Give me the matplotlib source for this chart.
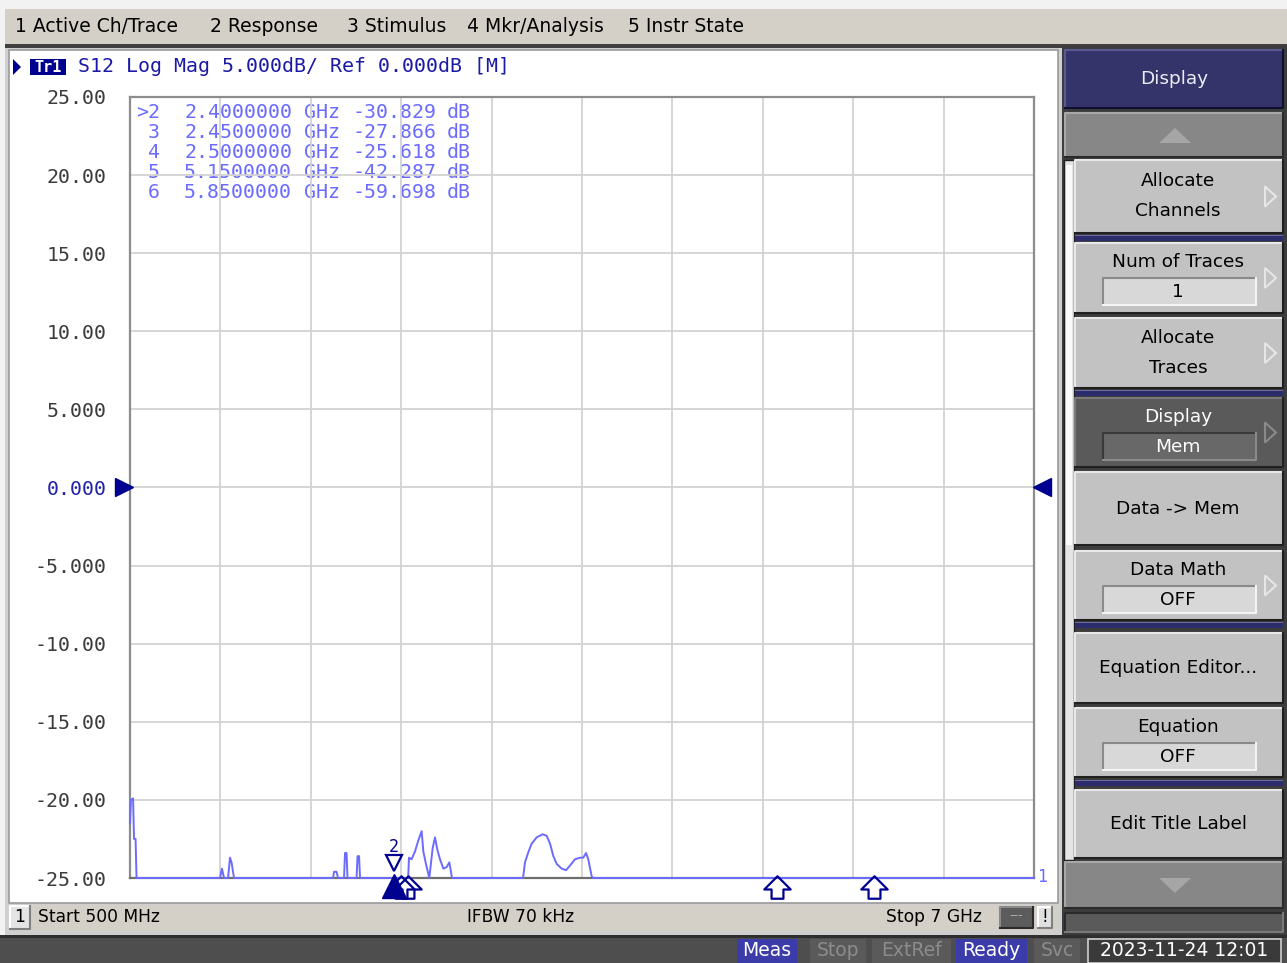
import matplotlib.pyplot as plt
import numpy as np
from matplotlib.patches import Rectangle, Polygon
from matplotlib.path import Path
from matplotlib.transforms import offset_copy

# ---- sweep / scale settings ----
start_ghz = 0.5
stop_ghz = 7.0
ref_db = 0.0
scale_db = 5.0
n_div = 10

# ---- S12 trace (GHz, dB) ----
freq_ghz = [0.500, 0.507, 0.522, 0.529, 0.540, 0.547, 0.80, 1.00, 1.147, 1.161,
            1.176, 1.205, 1.219, 1.230, 1.248, 1.50, 1.960, 1.967, 1.985, 1.996,
            2.039, 2.046, 2.057, 2.064, 2.129, 2.136, 2.147, 2.154, 2.30, 2.40,
            2.45, 2.50, 2.506, 2.525, 2.549, 2.573, 2.597, 2.609, 2.628, 2.652,
            2.676, 2.693, 2.710, 2.729, 2.753, 2.777, 2.796, 2.806, 2.815, 3.20,
            3.326, 3.340, 3.364, 3.388, 3.424, 3.467, 3.496, 3.520, 3.544, 3.568,
            3.604, 3.635, 3.664, 3.700, 3.736, 3.759, 3.779, 3.795, 3.820, 3.831,
            4.20, 5.15, 5.85, 6.50, 7.00]
s12_db = [-21.5, -20.0, -19.9, -22.5, -22.5, -31.0, -33.0, -32.0, -26.0, -24.4,
          -26.0, -25.5, -23.7, -24.0, -26.5, -31.0, -27.0, -24.6, -24.6, -27.0,
          -27.0, -23.4, -23.4, -27.0, -27.0, -23.6, -23.6, -27.0, -29.0, -30.829,
          -27.866, -25.618, -23.7, -23.8, -23.3, -22.6, -22.0, -23.3, -24.1, -25.8,
          -23.1, -22.4, -23.2, -23.8, -24.4, -24.3, -24.0, -24.5, -26.5, -30.0,
          -25.3, -24.0, -23.35, -22.8, -22.4, -22.2, -22.3, -22.8, -23.6, -24.1,
          -24.4, -24.5, -24.2, -23.8, -23.7, -23.7, -23.4, -23.8, -24.9, -25.6,
          -33.0, -42.287, -59.698, -45.0, -40.0]

# ---- markers ----
marker_ids = [2, 3, 4, 5, 6]
marker_freq = [2.40, 2.45, 2.50, 5.15, 5.85]
marker_db = [-30.829, -27.866, -25.618, -42.287, -59.698]
active_marker = 2

ytick_labels = ['-25.00', '-20.00', '-15.00', '-10.00', '-5.000', '0.000',
                '5.000', '10.00', '15.00', '20.00', '25.00']

menu_items = ['1 Active Ch/Trace', '2 Response', '3 Stimulus',
              '4 Mkr/Analysis', '5 Instr State']
menu_x = [15, 210, 347, 467, 628]

# label, field value, top, height, dark?, has submenu arrow
softkeys = [
    ('Allocate\nChannels', None, 160, 73, False, True),
    ('Num of Traces', '1', 243, 70, False, True),
    ('Allocate\nTraces', None, 318, 70, False, True),
    ('Display', 'Mem', 398, 69, True, True),
    ('Data -> Mem', None, 472, 73, False, False),
    ('Data Math', 'OFF', 551, 69, False, True),
    ('Equation Editor...', None, 633, 70, False, False),
    ('Equation', 'OFF', 708, 69, False, False),
    ('Edit Title Label', None, 790, 68, False, False),
]
separators = [235, 390, 622, 780]

status_items = ['Meas', 'Stop', 'ExtRef', 'Ready', 'Svc']
status_x = [(737, 797), (810, 866), (872, 951), (956, 1027), (1034, 1080)]
status_on = [True, False, False, True, False]
timestamp = '2023-11-24 12:01'

W, H = 1287, 963
UI_FONT = 'DejaVu Sans'
MENU_SIZE = 13.5
KEY_SIZE = 13.3
BAR_SIZE = 12.3
MONO = 'DejaVu Sans Mono'
MONO_SIZE = 14.3
TRACE_BLUE = '#6b6bff'
NAVY = '#000090'

fig = plt.figure(figsize=(W / 100, H / 100), dpi=100)
fig.patch.set_facecolor('#f2f2f2')

ui = fig.add_axes([0, 0, 1, 1], zorder=0)
ui.set_xlim(0, W)
ui.set_ylim(H, 0)
ui.axis('off')


def box(x0, y0, x1, y1, face, edge='none', lw=0, z=1):
    ui.add_patch(Rectangle((x0, y0), x1 - x0, y1 - y0, facecolor=face,
                           edgecolor=edge, linewidth=lw, zorder=z))


def bevel(x0, y0, x1, y1, face, light='#e6e6e6', dark='#404040', z=1):
    box(x0, y0, x1, y1, face, z=z)
    ui.plot([x0, x0, x1], [y1, y0, y0], color=light, lw=1.5, zorder=z + 0.1)
    ui.plot([x0, x1, x1], [y1, y1, y0], color=dark, lw=1.5, zorder=z + 0.1)


# menu bar
box(5, 9, W, 45, '#d4d0c8')
box(5, 44, W, 48, '#404040')
for label, x in zip(menu_items, menu_x):
    ui.text(x, 27, label, fontsize=MENU_SIZE, family=UI_FONT, va='center', ha='left')

# chart window
box(5, 48, 1062, 935, '#cfcfcf')
box(9, 50, 1058, 903, 'white', edge='#9a9a9a', lw=1.2)

# header line
ui.add_patch(Polygon([[13, 59], [21, 67], [13, 75]], closed=True,
                     facecolor=NAVY, zorder=3))
box(30, 59, 66, 75, NAVY, z=3)
ui.text(48, 67.5, 'Tr1', fontsize=11, family=MONO, color='white',
        fontweight='bold', ha='center', va='center', zorder=4)
ui.text(78, 67, 'S12 Log Mag %.3fdB/ Ref %.3fdB [M]' % (scale_db, ref_db),
        fontsize=MONO_SIZE, family=MONO, color='#1a1aa6', ha='left', va='center')

# channel status bar
box(9, 905, 1058, 931, '#d4d0c8')
bevel(10, 906, 30, 929, '#e4e4e4', light='white', dark='#808080', z=2)
ui.text(20, 917, '1', fontsize=BAR_SIZE, family=UI_FONT, ha='center', va='center', zorder=3)
ui.text(38, 917, 'Start %d MHz' % (start_ghz * 1000), fontsize=BAR_SIZE, family=UI_FONT,
        ha='left', va='center')
ui.text(521, 917, 'IFBW 70 kHz', fontsize=BAR_SIZE, family=UI_FONT, ha='center', va='center')
ui.text(982, 917, 'Stop %g GHz' % stop_ghz, fontsize=BAR_SIZE, family=UI_FONT,
        ha='right', va='center')
bevel(1000, 907, 1033, 928, '#5c5c5c', light='#8a8a8a', dark='#2a2a2a', z=2)
ui.text(1016, 916, '---', fontsize=9, family=UI_FONT, color='#b0b0b0',
        ha='center', va='center', zorder=3)
bevel(1038, 907, 1052, 928, '#e0e0e0', light='white', dark='#808080', z=2)
ui.text(1045, 917, '!', fontsize=12, family=UI_FONT, ha='center', va='center', zorder=3)

# instrument status bar
box(0, 935, W, H, '#4e4e4e')
box(0, 935, W, 938, '#2e2e2e')
for label, (x0, x1), on in zip(status_items, status_x, status_on):
    if on:
        box(x0, 939, x1, H, '#3b3baa', z=2)
        col = 'white'
    else:
        box(x0, 939, x1, H, '#5a5a5a', z=2)
        col = '#8c8c8c'
    ui.text((x0 + x1) / 2, 951, label, fontsize=MENU_SIZE, family=UI_FONT, color=col,
            ha='center', va='center', zorder=3)
box(1088, 939, 1281, H, '#3a3a3a', edge='#d0d0d0', lw=1.2, z=2)
ui.text(1184, 951, timestamp, fontsize=MENU_SIZE, family=UI_FONT, color='white',
        ha='center', va='center', zorder=3)

# softkey panel
box(1062, 45, W, 935, '#3c3c3c')
bevel(1065, 50, 1283, 108, '#34346a', light='#5a5a90', dark='#101030')
ui.text(1174, 79, 'Display', fontsize=KEY_SIZE, family=UI_FONT, color='#ececf4',
        ha='center', va='center', zorder=3)
bevel(1065, 113, 1283, 157, '#878787', light='#a8a8a8', dark='#2a2a2a')
ui.add_patch(Polygon([[1159, 143], [1175, 128], [1191, 143]], closed=True,
                     facecolor='#a6a6a6', zorder=3))
bevel(1065, 862, 1283, 908, '#878787', light='#a8a8a8', dark='#2a2a2a')
ui.add_patch(Polygon([[1159, 878], [1175, 893], [1191, 878]], closed=True,
                     facecolor='#a6a6a6', zorder=3))
bevel(1065, 913, 1283, 932, '#5a5a5a', light='#2a2a2a', dark='#7a7a7a')

# scroll strip left of the keys
box(1064, 160, 1074, 860, '#e4e4e4', edge='#202020', lw=1)
box(1066, 165, 1072, 545, '#fafafa', z=2)

for y in separators:
    box(1075, y, 1283, y + 6, '#2c2c6c')
    box(1075, y, 1283, y + 1.5, '#6a6aa0')

for label, field, top, h, dark, arrow in softkeys:
    face = '#5a5a5a' if dark else '#c2c2c2'
    txt = 'white' if dark else 'black'
    bevel(1075, top, 1283, top + h, face,
          light='#7a7a7a' if dark else '#e8e8e8', dark='#202020', z=2)
    cx = 1178
    if field is None:
        lines = label.split('\n')
        if len(lines) == 2:
            ui.text(cx, top + h / 2 - 15, lines[0], fontsize=KEY_SIZE, family=UI_FONT,
                    color=txt, ha='center', va='center', zorder=3)
            ui.text(cx, top + h / 2 + 15, lines[1], fontsize=KEY_SIZE, family=UI_FONT,
                    color=txt, ha='center', va='center', zorder=3)
        else:
            ui.text(cx, top + h / 2, label, fontsize=KEY_SIZE, family=UI_FONT,
                    color=txt, ha='center', va='center', zorder=3)
    else:
        ui.text(cx, top + 19, label, fontsize=KEY_SIZE, family=UI_FONT, color=txt,
                ha='center', va='center', zorder=3)
        ffc = '#686868' if dark else '#d8d8d8'
        bevel(1103, top + 35, 1256, top + 62, ffc,
              light='#3a3a3a' if dark else '#8a8a8a',
              dark='#8a8a8a' if dark else '#f4f4f4', z=3)
        ui.text(cx, top + 49, field, fontsize=KEY_SIZE, family=UI_FONT, color=txt,
                ha='center', va='center', zorder=4)
    if arrow:
        ym = top + h / 2
        ui.add_patch(Polygon([[1265, ym - 10], [1276, ym], [1265, ym + 10]],
                             closed=True, facecolor='none',
                             edgecolor='#8a8a8a' if dark else '#e6e6e6',
                             lw=1.5, zorder=3))

# ---- graticule ----
ax = fig.add_axes([130 / W, 1 - 878 / H, 904 / W, 781 / H], zorder=2)
ax.set_facecolor('none')
ax.set_xlim(start_ghz, stop_ghz)
top_db = ref_db + scale_db * n_div / 2
bot_db = ref_db - scale_db * n_div / 2
ax.set_ylim(bot_db, top_db)
ax.set_xticks(np.linspace(start_ghz, stop_ghz, n_div + 1))
ax.set_xticklabels([])
yt = np.linspace(bot_db, top_db, n_div + 1)
ax.set_yticks(yt)
ax.set_yticklabels(ytick_labels, family=MONO, fontsize=MONO_SIZE, color='#3c3c3c')
for lab, v in zip(ax.get_yticklabels(), yt):
    if v == ref_db:
        lab.set_color('#2323a8')
ax.tick_params(length=0, pad=17)
ax.grid(True, color='#d2d2d2', lw=1.3)
for s in ax.spines.values():
    s.set_color('#8c8c8c')
    s.set_linewidth(1.6)
ax.spines['bottom'].set_color('#6e6e6e')

# trace, pinned to the graticule bottom where it falls off-scale
shown = np.clip(np.array(s12_db), bot_db, top_db)
ax.plot(freq_ghz, shown, color=TRACE_BLUE, lw=1.4, clip_on=False, zorder=5)
ax.text(stop_ghz, bot_db, '1', transform=offset_copy(ax.transData, fig, x=3, y=1, units='dots'),
        color=TRACE_BLUE, family=MONO, fontsize=12, ha='left', va='center')

# reference level arrows
ax.plot([start_ghz], [ref_db], marker='>', ms=13, color=NAVY, clip_on=False,
        transform=offset_copy(ax.transData, fig, x=-6, y=0, units='dots'), zorder=6)
ax.plot([stop_ghz], [ref_db], marker='<', ms=13, color=NAVY, clip_on=False,
        transform=offset_copy(ax.transData, fig, x=8, y=0, units='dots'), zorder=6)

# stimulus indicators under the graticule
arrow_up = Path([(0, 1), (-1, 0), (-0.45, 0), (-0.45, -0.7), (0.45, -0.7),
                 (0.45, 0), (1, 0), (0, 1)],
                [Path.MOVETO] + [Path.LINETO] * 6 + [Path.CLOSEPOLY])
below = offset_copy(ax.transData, fig, x=0, y=-11, units='dots')
for mid, f, v in zip(marker_ids, marker_freq, marker_db):
    if mid == active_marker:
        continue
    ax.plot([f], [bot_db], marker=arrow_up, ms=19, mfc='none', mec=NAVY, mew=1.6,
            clip_on=False, transform=below, zorder=6)
ia = marker_ids.index(active_marker)
fa, va = marker_freq[ia], max(marker_db[ia], bot_db)
ax.plot([fa], [bot_db], marker='^', ms=17, color=NAVY, clip_on=False,
        transform=offset_copy(ax.transData, fig, x=0, y=-8, units='dots'), zorder=7)
ax.plot([fa], [va], marker='v', ms=12, mfc='none', mec=NAVY, mew=1.6, clip_on=False,
        transform=offset_copy(ax.transData, fig, x=0, y=15, units='dots'), zorder=7)
ax.text(fa, va, str(active_marker), transform=offset_copy(ax.transData, fig, x=0, y=31, units='dots'),
        color=NAVY, family=MONO, fontsize=12, ha='center', va='center', zorder=7)

# marker readout table
for i, (mid, f, v) in enumerate(zip(marker_ids, marker_freq, marker_db)):
    y = 112 + 20 * i
    tag = ('>%d' if mid == active_marker else '%d') % mid
    cells = [(160, 'right', tag), (184, 'left', '%.7f' % f), (304, 'left', 'GHz'),
             (353, 'left', '%.3f' % v), (447, 'left', 'dB')]
    for x, ha, s in cells:
        ui.text(x, y, s, fontsize=MONO_SIZE, family=MONO, color=TRACE_BLUE,
                ha=ha, va='center', zorder=5)

fig.savefig('out.png', dpi=100)
